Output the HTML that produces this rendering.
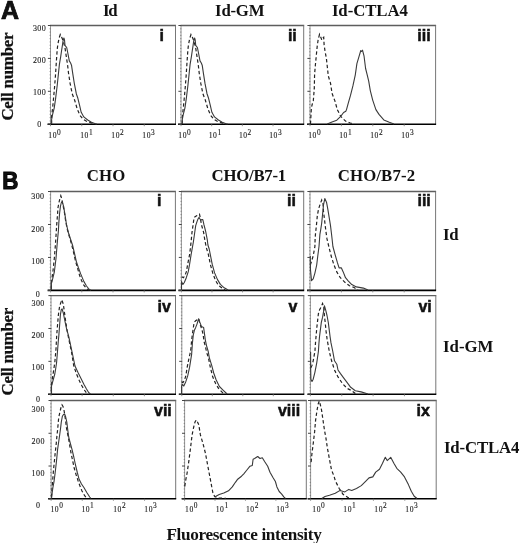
<!DOCTYPE html>
<html><head><meta charset="utf-8"><style>
html,body{margin:0;padding:0;background:#fff;}
body{width:520px;height:543px;overflow:hidden;position:relative;font-family:"Liberation Serif", serif;}
svg{position:absolute;left:0;top:0;will-change:transform;}
</style></head><body>
<svg width="520" height="543" viewBox="0 0 520 543" fill="#111">
<line x1="50.0" y1="25.5" x2="176.0" y2="25.5" stroke="#5e5e5e" stroke-width="1.3"/>
<line x1="175.5" y1="25.5" x2="175.5" y2="124.2" stroke="#777" stroke-width="1"/>
<line x1="50.5" y1="25.5" x2="50.5" y2="124.2" stroke="#888" stroke-width="0.9"/>
<line x1="47.5" y1="124.2" x2="176.0" y2="124.2" stroke="#000" stroke-width="1.6"/>
<line x1="47.90" y1="124.20" x2="50.9" y2="124.20" stroke="#444" stroke-width="1"/>
<line x1="49.60" y1="120.91" x2="50.9" y2="120.91" stroke="#777" stroke-width="0.8"/>
<line x1="49.60" y1="117.62" x2="50.9" y2="117.62" stroke="#777" stroke-width="0.8"/>
<line x1="49.60" y1="114.33" x2="50.9" y2="114.33" stroke="#777" stroke-width="0.8"/>
<line x1="49.60" y1="111.04" x2="50.9" y2="111.04" stroke="#777" stroke-width="0.8"/>
<line x1="49.60" y1="107.75" x2="50.9" y2="107.75" stroke="#777" stroke-width="0.8"/>
<line x1="49.60" y1="104.46" x2="50.9" y2="104.46" stroke="#777" stroke-width="0.8"/>
<line x1="49.60" y1="101.17" x2="50.9" y2="101.17" stroke="#777" stroke-width="0.8"/>
<line x1="49.60" y1="97.88" x2="50.9" y2="97.88" stroke="#777" stroke-width="0.8"/>
<line x1="49.60" y1="94.59" x2="50.9" y2="94.59" stroke="#777" stroke-width="0.8"/>
<line x1="47.90" y1="91.30" x2="50.9" y2="91.30" stroke="#444" stroke-width="1"/>
<line x1="49.60" y1="88.01" x2="50.9" y2="88.01" stroke="#777" stroke-width="0.8"/>
<line x1="49.60" y1="84.72" x2="50.9" y2="84.72" stroke="#777" stroke-width="0.8"/>
<line x1="49.60" y1="81.43" x2="50.9" y2="81.43" stroke="#777" stroke-width="0.8"/>
<line x1="49.60" y1="78.14" x2="50.9" y2="78.14" stroke="#777" stroke-width="0.8"/>
<line x1="49.60" y1="74.85" x2="50.9" y2="74.85" stroke="#777" stroke-width="0.8"/>
<line x1="49.60" y1="71.56" x2="50.9" y2="71.56" stroke="#777" stroke-width="0.8"/>
<line x1="49.60" y1="68.27" x2="50.9" y2="68.27" stroke="#777" stroke-width="0.8"/>
<line x1="49.60" y1="64.98" x2="50.9" y2="64.98" stroke="#777" stroke-width="0.8"/>
<line x1="49.60" y1="61.69" x2="50.9" y2="61.69" stroke="#777" stroke-width="0.8"/>
<line x1="47.90" y1="58.40" x2="50.9" y2="58.40" stroke="#444" stroke-width="1"/>
<line x1="49.60" y1="55.11" x2="50.9" y2="55.11" stroke="#777" stroke-width="0.8"/>
<line x1="49.60" y1="51.82" x2="50.9" y2="51.82" stroke="#777" stroke-width="0.8"/>
<line x1="49.60" y1="48.53" x2="50.9" y2="48.53" stroke="#777" stroke-width="0.8"/>
<line x1="49.60" y1="45.24" x2="50.9" y2="45.24" stroke="#777" stroke-width="0.8"/>
<line x1="49.60" y1="41.95" x2="50.9" y2="41.95" stroke="#777" stroke-width="0.8"/>
<line x1="49.60" y1="38.66" x2="50.9" y2="38.66" stroke="#777" stroke-width="0.8"/>
<line x1="49.60" y1="35.37" x2="50.9" y2="35.37" stroke="#777" stroke-width="0.8"/>
<line x1="49.60" y1="32.08" x2="50.9" y2="32.08" stroke="#777" stroke-width="0.8"/>
<line x1="49.60" y1="28.79" x2="50.9" y2="28.79" stroke="#777" stroke-width="0.8"/>
<line x1="47.90" y1="25.50" x2="50.9" y2="25.50" stroke="#444" stroke-width="1"/>
<line x1="50.50" y1="124.2" x2="50.50" y2="126.2" stroke="#777" stroke-width="0.8"/>
<line x1="81.75" y1="124.2" x2="81.75" y2="126.2" stroke="#777" stroke-width="0.8"/>
<line x1="113.00" y1="124.2" x2="113.00" y2="126.2" stroke="#777" stroke-width="0.8"/>
<line x1="144.25" y1="124.2" x2="144.25" y2="126.2" stroke="#777" stroke-width="0.8"/>
<line x1="180.5" y1="25.5" x2="304.2" y2="25.5" stroke="#5e5e5e" stroke-width="1.3"/>
<line x1="303.7" y1="25.5" x2="303.7" y2="124.2" stroke="#777" stroke-width="1"/>
<line x1="181" y1="25.5" x2="181" y2="124.2" stroke="#888" stroke-width="0.9"/>
<line x1="178" y1="124.2" x2="304.2" y2="124.2" stroke="#000" stroke-width="1.6"/>
<line x1="178.40" y1="124.20" x2="181.4" y2="124.20" stroke="#444" stroke-width="1"/>
<line x1="180.10" y1="120.91" x2="181.4" y2="120.91" stroke="#777" stroke-width="0.8"/>
<line x1="180.10" y1="117.62" x2="181.4" y2="117.62" stroke="#777" stroke-width="0.8"/>
<line x1="180.10" y1="114.33" x2="181.4" y2="114.33" stroke="#777" stroke-width="0.8"/>
<line x1="180.10" y1="111.04" x2="181.4" y2="111.04" stroke="#777" stroke-width="0.8"/>
<line x1="180.10" y1="107.75" x2="181.4" y2="107.75" stroke="#777" stroke-width="0.8"/>
<line x1="180.10" y1="104.46" x2="181.4" y2="104.46" stroke="#777" stroke-width="0.8"/>
<line x1="180.10" y1="101.17" x2="181.4" y2="101.17" stroke="#777" stroke-width="0.8"/>
<line x1="180.10" y1="97.88" x2="181.4" y2="97.88" stroke="#777" stroke-width="0.8"/>
<line x1="180.10" y1="94.59" x2="181.4" y2="94.59" stroke="#777" stroke-width="0.8"/>
<line x1="178.40" y1="91.30" x2="181.4" y2="91.30" stroke="#444" stroke-width="1"/>
<line x1="180.10" y1="88.01" x2="181.4" y2="88.01" stroke="#777" stroke-width="0.8"/>
<line x1="180.10" y1="84.72" x2="181.4" y2="84.72" stroke="#777" stroke-width="0.8"/>
<line x1="180.10" y1="81.43" x2="181.4" y2="81.43" stroke="#777" stroke-width="0.8"/>
<line x1="180.10" y1="78.14" x2="181.4" y2="78.14" stroke="#777" stroke-width="0.8"/>
<line x1="180.10" y1="74.85" x2="181.4" y2="74.85" stroke="#777" stroke-width="0.8"/>
<line x1="180.10" y1="71.56" x2="181.4" y2="71.56" stroke="#777" stroke-width="0.8"/>
<line x1="180.10" y1="68.27" x2="181.4" y2="68.27" stroke="#777" stroke-width="0.8"/>
<line x1="180.10" y1="64.98" x2="181.4" y2="64.98" stroke="#777" stroke-width="0.8"/>
<line x1="180.10" y1="61.69" x2="181.4" y2="61.69" stroke="#777" stroke-width="0.8"/>
<line x1="178.40" y1="58.40" x2="181.4" y2="58.40" stroke="#444" stroke-width="1"/>
<line x1="180.10" y1="55.11" x2="181.4" y2="55.11" stroke="#777" stroke-width="0.8"/>
<line x1="180.10" y1="51.82" x2="181.4" y2="51.82" stroke="#777" stroke-width="0.8"/>
<line x1="180.10" y1="48.53" x2="181.4" y2="48.53" stroke="#777" stroke-width="0.8"/>
<line x1="180.10" y1="45.24" x2="181.4" y2="45.24" stroke="#777" stroke-width="0.8"/>
<line x1="180.10" y1="41.95" x2="181.4" y2="41.95" stroke="#777" stroke-width="0.8"/>
<line x1="180.10" y1="38.66" x2="181.4" y2="38.66" stroke="#777" stroke-width="0.8"/>
<line x1="180.10" y1="35.37" x2="181.4" y2="35.37" stroke="#777" stroke-width="0.8"/>
<line x1="180.10" y1="32.08" x2="181.4" y2="32.08" stroke="#777" stroke-width="0.8"/>
<line x1="180.10" y1="28.79" x2="181.4" y2="28.79" stroke="#777" stroke-width="0.8"/>
<line x1="178.40" y1="25.50" x2="181.4" y2="25.50" stroke="#444" stroke-width="1"/>
<line x1="181.00" y1="124.2" x2="181.00" y2="126.2" stroke="#777" stroke-width="0.8"/>
<line x1="211.68" y1="124.2" x2="211.68" y2="126.2" stroke="#777" stroke-width="0.8"/>
<line x1="242.35" y1="124.2" x2="242.35" y2="126.2" stroke="#777" stroke-width="0.8"/>
<line x1="273.02" y1="124.2" x2="273.02" y2="126.2" stroke="#777" stroke-width="0.8"/>
<line x1="309.5" y1="25.5" x2="436.1" y2="25.5" stroke="#5e5e5e" stroke-width="1.3"/>
<line x1="435.6" y1="25.5" x2="435.6" y2="124.2" stroke="#777" stroke-width="1"/>
<line x1="310" y1="25.5" x2="310" y2="124.2" stroke="#888" stroke-width="0.9"/>
<line x1="307" y1="124.2" x2="436.1" y2="124.2" stroke="#000" stroke-width="1.6"/>
<line x1="307.40" y1="124.20" x2="310.4" y2="124.20" stroke="#444" stroke-width="1"/>
<line x1="309.10" y1="120.91" x2="310.4" y2="120.91" stroke="#777" stroke-width="0.8"/>
<line x1="309.10" y1="117.62" x2="310.4" y2="117.62" stroke="#777" stroke-width="0.8"/>
<line x1="309.10" y1="114.33" x2="310.4" y2="114.33" stroke="#777" stroke-width="0.8"/>
<line x1="309.10" y1="111.04" x2="310.4" y2="111.04" stroke="#777" stroke-width="0.8"/>
<line x1="309.10" y1="107.75" x2="310.4" y2="107.75" stroke="#777" stroke-width="0.8"/>
<line x1="309.10" y1="104.46" x2="310.4" y2="104.46" stroke="#777" stroke-width="0.8"/>
<line x1="309.10" y1="101.17" x2="310.4" y2="101.17" stroke="#777" stroke-width="0.8"/>
<line x1="309.10" y1="97.88" x2="310.4" y2="97.88" stroke="#777" stroke-width="0.8"/>
<line x1="309.10" y1="94.59" x2="310.4" y2="94.59" stroke="#777" stroke-width="0.8"/>
<line x1="307.40" y1="91.30" x2="310.4" y2="91.30" stroke="#444" stroke-width="1"/>
<line x1="309.10" y1="88.01" x2="310.4" y2="88.01" stroke="#777" stroke-width="0.8"/>
<line x1="309.10" y1="84.72" x2="310.4" y2="84.72" stroke="#777" stroke-width="0.8"/>
<line x1="309.10" y1="81.43" x2="310.4" y2="81.43" stroke="#777" stroke-width="0.8"/>
<line x1="309.10" y1="78.14" x2="310.4" y2="78.14" stroke="#777" stroke-width="0.8"/>
<line x1="309.10" y1="74.85" x2="310.4" y2="74.85" stroke="#777" stroke-width="0.8"/>
<line x1="309.10" y1="71.56" x2="310.4" y2="71.56" stroke="#777" stroke-width="0.8"/>
<line x1="309.10" y1="68.27" x2="310.4" y2="68.27" stroke="#777" stroke-width="0.8"/>
<line x1="309.10" y1="64.98" x2="310.4" y2="64.98" stroke="#777" stroke-width="0.8"/>
<line x1="309.10" y1="61.69" x2="310.4" y2="61.69" stroke="#777" stroke-width="0.8"/>
<line x1="307.40" y1="58.40" x2="310.4" y2="58.40" stroke="#444" stroke-width="1"/>
<line x1="309.10" y1="55.11" x2="310.4" y2="55.11" stroke="#777" stroke-width="0.8"/>
<line x1="309.10" y1="51.82" x2="310.4" y2="51.82" stroke="#777" stroke-width="0.8"/>
<line x1="309.10" y1="48.53" x2="310.4" y2="48.53" stroke="#777" stroke-width="0.8"/>
<line x1="309.10" y1="45.24" x2="310.4" y2="45.24" stroke="#777" stroke-width="0.8"/>
<line x1="309.10" y1="41.95" x2="310.4" y2="41.95" stroke="#777" stroke-width="0.8"/>
<line x1="309.10" y1="38.66" x2="310.4" y2="38.66" stroke="#777" stroke-width="0.8"/>
<line x1="309.10" y1="35.37" x2="310.4" y2="35.37" stroke="#777" stroke-width="0.8"/>
<line x1="309.10" y1="32.08" x2="310.4" y2="32.08" stroke="#777" stroke-width="0.8"/>
<line x1="309.10" y1="28.79" x2="310.4" y2="28.79" stroke="#777" stroke-width="0.8"/>
<line x1="307.40" y1="25.50" x2="310.4" y2="25.50" stroke="#444" stroke-width="1"/>
<line x1="310.00" y1="124.2" x2="310.00" y2="126.2" stroke="#777" stroke-width="0.8"/>
<line x1="341.40" y1="124.2" x2="341.40" y2="126.2" stroke="#777" stroke-width="0.8"/>
<line x1="372.80" y1="124.2" x2="372.80" y2="126.2" stroke="#777" stroke-width="0.8"/>
<line x1="404.20" y1="124.2" x2="404.20" y2="126.2" stroke="#777" stroke-width="0.8"/>
<line x1="50.1" y1="191.5" x2="175.9" y2="191.5" stroke="#5e5e5e" stroke-width="1.3"/>
<line x1="175.4" y1="191.5" x2="175.4" y2="290.4" stroke="#777" stroke-width="1"/>
<line x1="50.6" y1="191.5" x2="50.6" y2="290.4" stroke="#888" stroke-width="0.9"/>
<line x1="47.6" y1="290.4" x2="175.9" y2="290.4" stroke="#000" stroke-width="1.6"/>
<line x1="48.00" y1="290.40" x2="51.0" y2="290.40" stroke="#444" stroke-width="1"/>
<line x1="49.70" y1="287.10" x2="51.0" y2="287.10" stroke="#777" stroke-width="0.8"/>
<line x1="49.70" y1="283.81" x2="51.0" y2="283.81" stroke="#777" stroke-width="0.8"/>
<line x1="49.70" y1="280.51" x2="51.0" y2="280.51" stroke="#777" stroke-width="0.8"/>
<line x1="49.70" y1="277.21" x2="51.0" y2="277.21" stroke="#777" stroke-width="0.8"/>
<line x1="49.70" y1="273.92" x2="51.0" y2="273.92" stroke="#777" stroke-width="0.8"/>
<line x1="49.70" y1="270.62" x2="51.0" y2="270.62" stroke="#777" stroke-width="0.8"/>
<line x1="49.70" y1="267.32" x2="51.0" y2="267.32" stroke="#777" stroke-width="0.8"/>
<line x1="49.70" y1="264.03" x2="51.0" y2="264.03" stroke="#777" stroke-width="0.8"/>
<line x1="49.70" y1="260.73" x2="51.0" y2="260.73" stroke="#777" stroke-width="0.8"/>
<line x1="48.00" y1="257.43" x2="51.0" y2="257.43" stroke="#444" stroke-width="1"/>
<line x1="49.70" y1="254.14" x2="51.0" y2="254.14" stroke="#777" stroke-width="0.8"/>
<line x1="49.70" y1="250.84" x2="51.0" y2="250.84" stroke="#777" stroke-width="0.8"/>
<line x1="49.70" y1="247.54" x2="51.0" y2="247.54" stroke="#777" stroke-width="0.8"/>
<line x1="49.70" y1="244.25" x2="51.0" y2="244.25" stroke="#777" stroke-width="0.8"/>
<line x1="49.70" y1="240.95" x2="51.0" y2="240.95" stroke="#777" stroke-width="0.8"/>
<line x1="49.70" y1="237.65" x2="51.0" y2="237.65" stroke="#777" stroke-width="0.8"/>
<line x1="49.70" y1="234.36" x2="51.0" y2="234.36" stroke="#777" stroke-width="0.8"/>
<line x1="49.70" y1="231.06" x2="51.0" y2="231.06" stroke="#777" stroke-width="0.8"/>
<line x1="49.70" y1="227.76" x2="51.0" y2="227.76" stroke="#777" stroke-width="0.8"/>
<line x1="48.00" y1="224.47" x2="51.0" y2="224.47" stroke="#444" stroke-width="1"/>
<line x1="49.70" y1="221.17" x2="51.0" y2="221.17" stroke="#777" stroke-width="0.8"/>
<line x1="49.70" y1="217.87" x2="51.0" y2="217.87" stroke="#777" stroke-width="0.8"/>
<line x1="49.70" y1="214.58" x2="51.0" y2="214.58" stroke="#777" stroke-width="0.8"/>
<line x1="49.70" y1="211.28" x2="51.0" y2="211.28" stroke="#777" stroke-width="0.8"/>
<line x1="49.70" y1="207.98" x2="51.0" y2="207.98" stroke="#777" stroke-width="0.8"/>
<line x1="49.70" y1="204.69" x2="51.0" y2="204.69" stroke="#777" stroke-width="0.8"/>
<line x1="49.70" y1="201.39" x2="51.0" y2="201.39" stroke="#777" stroke-width="0.8"/>
<line x1="49.70" y1="198.09" x2="51.0" y2="198.09" stroke="#777" stroke-width="0.8"/>
<line x1="49.70" y1="194.80" x2="51.0" y2="194.80" stroke="#777" stroke-width="0.8"/>
<line x1="48.00" y1="191.50" x2="51.0" y2="191.50" stroke="#444" stroke-width="1"/>
<line x1="50.60" y1="290.4" x2="50.60" y2="292.4" stroke="#777" stroke-width="0.8"/>
<line x1="81.80" y1="290.4" x2="81.80" y2="292.4" stroke="#777" stroke-width="0.8"/>
<line x1="113.00" y1="290.4" x2="113.00" y2="292.4" stroke="#777" stroke-width="0.8"/>
<line x1="144.20" y1="290.4" x2="144.20" y2="292.4" stroke="#777" stroke-width="0.8"/>
<line x1="180.9" y1="191.5" x2="304.2" y2="191.5" stroke="#5e5e5e" stroke-width="1.3"/>
<line x1="303.7" y1="191.5" x2="303.7" y2="290.4" stroke="#777" stroke-width="1"/>
<line x1="181.4" y1="191.5" x2="181.4" y2="290.4" stroke="#888" stroke-width="0.9"/>
<line x1="178.4" y1="290.4" x2="304.2" y2="290.4" stroke="#000" stroke-width="1.6"/>
<line x1="178.80" y1="290.40" x2="181.8" y2="290.40" stroke="#444" stroke-width="1"/>
<line x1="180.50" y1="287.10" x2="181.8" y2="287.10" stroke="#777" stroke-width="0.8"/>
<line x1="180.50" y1="283.81" x2="181.8" y2="283.81" stroke="#777" stroke-width="0.8"/>
<line x1="180.50" y1="280.51" x2="181.8" y2="280.51" stroke="#777" stroke-width="0.8"/>
<line x1="180.50" y1="277.21" x2="181.8" y2="277.21" stroke="#777" stroke-width="0.8"/>
<line x1="180.50" y1="273.92" x2="181.8" y2="273.92" stroke="#777" stroke-width="0.8"/>
<line x1="180.50" y1="270.62" x2="181.8" y2="270.62" stroke="#777" stroke-width="0.8"/>
<line x1="180.50" y1="267.32" x2="181.8" y2="267.32" stroke="#777" stroke-width="0.8"/>
<line x1="180.50" y1="264.03" x2="181.8" y2="264.03" stroke="#777" stroke-width="0.8"/>
<line x1="180.50" y1="260.73" x2="181.8" y2="260.73" stroke="#777" stroke-width="0.8"/>
<line x1="178.80" y1="257.43" x2="181.8" y2="257.43" stroke="#444" stroke-width="1"/>
<line x1="180.50" y1="254.14" x2="181.8" y2="254.14" stroke="#777" stroke-width="0.8"/>
<line x1="180.50" y1="250.84" x2="181.8" y2="250.84" stroke="#777" stroke-width="0.8"/>
<line x1="180.50" y1="247.54" x2="181.8" y2="247.54" stroke="#777" stroke-width="0.8"/>
<line x1="180.50" y1="244.25" x2="181.8" y2="244.25" stroke="#777" stroke-width="0.8"/>
<line x1="180.50" y1="240.95" x2="181.8" y2="240.95" stroke="#777" stroke-width="0.8"/>
<line x1="180.50" y1="237.65" x2="181.8" y2="237.65" stroke="#777" stroke-width="0.8"/>
<line x1="180.50" y1="234.36" x2="181.8" y2="234.36" stroke="#777" stroke-width="0.8"/>
<line x1="180.50" y1="231.06" x2="181.8" y2="231.06" stroke="#777" stroke-width="0.8"/>
<line x1="180.50" y1="227.76" x2="181.8" y2="227.76" stroke="#777" stroke-width="0.8"/>
<line x1="178.80" y1="224.47" x2="181.8" y2="224.47" stroke="#444" stroke-width="1"/>
<line x1="180.50" y1="221.17" x2="181.8" y2="221.17" stroke="#777" stroke-width="0.8"/>
<line x1="180.50" y1="217.87" x2="181.8" y2="217.87" stroke="#777" stroke-width="0.8"/>
<line x1="180.50" y1="214.58" x2="181.8" y2="214.58" stroke="#777" stroke-width="0.8"/>
<line x1="180.50" y1="211.28" x2="181.8" y2="211.28" stroke="#777" stroke-width="0.8"/>
<line x1="180.50" y1="207.98" x2="181.8" y2="207.98" stroke="#777" stroke-width="0.8"/>
<line x1="180.50" y1="204.69" x2="181.8" y2="204.69" stroke="#777" stroke-width="0.8"/>
<line x1="180.50" y1="201.39" x2="181.8" y2="201.39" stroke="#777" stroke-width="0.8"/>
<line x1="180.50" y1="198.09" x2="181.8" y2="198.09" stroke="#777" stroke-width="0.8"/>
<line x1="180.50" y1="194.80" x2="181.8" y2="194.80" stroke="#777" stroke-width="0.8"/>
<line x1="178.80" y1="191.50" x2="181.8" y2="191.50" stroke="#444" stroke-width="1"/>
<line x1="181.40" y1="290.4" x2="181.40" y2="292.4" stroke="#777" stroke-width="0.8"/>
<line x1="211.97" y1="290.4" x2="211.97" y2="292.4" stroke="#777" stroke-width="0.8"/>
<line x1="242.55" y1="290.4" x2="242.55" y2="292.4" stroke="#777" stroke-width="0.8"/>
<line x1="273.12" y1="290.4" x2="273.12" y2="292.4" stroke="#777" stroke-width="0.8"/>
<line x1="309.5" y1="191.5" x2="436.1" y2="191.5" stroke="#5e5e5e" stroke-width="1.3"/>
<line x1="435.6" y1="191.5" x2="435.6" y2="290.4" stroke="#777" stroke-width="1"/>
<line x1="310" y1="191.5" x2="310" y2="290.4" stroke="#888" stroke-width="0.9"/>
<line x1="307" y1="290.4" x2="436.1" y2="290.4" stroke="#000" stroke-width="1.6"/>
<line x1="307.40" y1="290.40" x2="310.4" y2="290.40" stroke="#444" stroke-width="1"/>
<line x1="309.10" y1="287.10" x2="310.4" y2="287.10" stroke="#777" stroke-width="0.8"/>
<line x1="309.10" y1="283.81" x2="310.4" y2="283.81" stroke="#777" stroke-width="0.8"/>
<line x1="309.10" y1="280.51" x2="310.4" y2="280.51" stroke="#777" stroke-width="0.8"/>
<line x1="309.10" y1="277.21" x2="310.4" y2="277.21" stroke="#777" stroke-width="0.8"/>
<line x1="309.10" y1="273.92" x2="310.4" y2="273.92" stroke="#777" stroke-width="0.8"/>
<line x1="309.10" y1="270.62" x2="310.4" y2="270.62" stroke="#777" stroke-width="0.8"/>
<line x1="309.10" y1="267.32" x2="310.4" y2="267.32" stroke="#777" stroke-width="0.8"/>
<line x1="309.10" y1="264.03" x2="310.4" y2="264.03" stroke="#777" stroke-width="0.8"/>
<line x1="309.10" y1="260.73" x2="310.4" y2="260.73" stroke="#777" stroke-width="0.8"/>
<line x1="307.40" y1="257.43" x2="310.4" y2="257.43" stroke="#444" stroke-width="1"/>
<line x1="309.10" y1="254.14" x2="310.4" y2="254.14" stroke="#777" stroke-width="0.8"/>
<line x1="309.10" y1="250.84" x2="310.4" y2="250.84" stroke="#777" stroke-width="0.8"/>
<line x1="309.10" y1="247.54" x2="310.4" y2="247.54" stroke="#777" stroke-width="0.8"/>
<line x1="309.10" y1="244.25" x2="310.4" y2="244.25" stroke="#777" stroke-width="0.8"/>
<line x1="309.10" y1="240.95" x2="310.4" y2="240.95" stroke="#777" stroke-width="0.8"/>
<line x1="309.10" y1="237.65" x2="310.4" y2="237.65" stroke="#777" stroke-width="0.8"/>
<line x1="309.10" y1="234.36" x2="310.4" y2="234.36" stroke="#777" stroke-width="0.8"/>
<line x1="309.10" y1="231.06" x2="310.4" y2="231.06" stroke="#777" stroke-width="0.8"/>
<line x1="309.10" y1="227.76" x2="310.4" y2="227.76" stroke="#777" stroke-width="0.8"/>
<line x1="307.40" y1="224.47" x2="310.4" y2="224.47" stroke="#444" stroke-width="1"/>
<line x1="309.10" y1="221.17" x2="310.4" y2="221.17" stroke="#777" stroke-width="0.8"/>
<line x1="309.10" y1="217.87" x2="310.4" y2="217.87" stroke="#777" stroke-width="0.8"/>
<line x1="309.10" y1="214.58" x2="310.4" y2="214.58" stroke="#777" stroke-width="0.8"/>
<line x1="309.10" y1="211.28" x2="310.4" y2="211.28" stroke="#777" stroke-width="0.8"/>
<line x1="309.10" y1="207.98" x2="310.4" y2="207.98" stroke="#777" stroke-width="0.8"/>
<line x1="309.10" y1="204.69" x2="310.4" y2="204.69" stroke="#777" stroke-width="0.8"/>
<line x1="309.10" y1="201.39" x2="310.4" y2="201.39" stroke="#777" stroke-width="0.8"/>
<line x1="309.10" y1="198.09" x2="310.4" y2="198.09" stroke="#777" stroke-width="0.8"/>
<line x1="309.10" y1="194.80" x2="310.4" y2="194.80" stroke="#777" stroke-width="0.8"/>
<line x1="307.40" y1="191.50" x2="310.4" y2="191.50" stroke="#444" stroke-width="1"/>
<line x1="310.00" y1="290.4" x2="310.00" y2="292.4" stroke="#777" stroke-width="0.8"/>
<line x1="341.40" y1="290.4" x2="341.40" y2="292.4" stroke="#777" stroke-width="0.8"/>
<line x1="372.80" y1="290.4" x2="372.80" y2="292.4" stroke="#777" stroke-width="0.8"/>
<line x1="404.20" y1="290.4" x2="404.20" y2="292.4" stroke="#777" stroke-width="0.8"/>
<line x1="50.5" y1="295.6" x2="176.0" y2="295.6" stroke="#5e5e5e" stroke-width="1.3"/>
<line x1="175.5" y1="295.6" x2="175.5" y2="394.2" stroke="#777" stroke-width="1"/>
<line x1="51" y1="295.6" x2="51" y2="394.2" stroke="#888" stroke-width="0.9"/>
<line x1="48" y1="394.2" x2="176.0" y2="394.2" stroke="#000" stroke-width="1.6"/>
<line x1="48.40" y1="394.20" x2="51.4" y2="394.20" stroke="#444" stroke-width="1"/>
<line x1="50.10" y1="390.91" x2="51.4" y2="390.91" stroke="#777" stroke-width="0.8"/>
<line x1="50.10" y1="387.63" x2="51.4" y2="387.63" stroke="#777" stroke-width="0.8"/>
<line x1="50.10" y1="384.34" x2="51.4" y2="384.34" stroke="#777" stroke-width="0.8"/>
<line x1="50.10" y1="381.05" x2="51.4" y2="381.05" stroke="#777" stroke-width="0.8"/>
<line x1="50.10" y1="377.77" x2="51.4" y2="377.77" stroke="#777" stroke-width="0.8"/>
<line x1="50.10" y1="374.48" x2="51.4" y2="374.48" stroke="#777" stroke-width="0.8"/>
<line x1="50.10" y1="371.19" x2="51.4" y2="371.19" stroke="#777" stroke-width="0.8"/>
<line x1="50.10" y1="367.91" x2="51.4" y2="367.91" stroke="#777" stroke-width="0.8"/>
<line x1="50.10" y1="364.62" x2="51.4" y2="364.62" stroke="#777" stroke-width="0.8"/>
<line x1="48.40" y1="361.33" x2="51.4" y2="361.33" stroke="#444" stroke-width="1"/>
<line x1="50.10" y1="358.05" x2="51.4" y2="358.05" stroke="#777" stroke-width="0.8"/>
<line x1="50.10" y1="354.76" x2="51.4" y2="354.76" stroke="#777" stroke-width="0.8"/>
<line x1="50.10" y1="351.47" x2="51.4" y2="351.47" stroke="#777" stroke-width="0.8"/>
<line x1="50.10" y1="348.19" x2="51.4" y2="348.19" stroke="#777" stroke-width="0.8"/>
<line x1="50.10" y1="344.90" x2="51.4" y2="344.90" stroke="#777" stroke-width="0.8"/>
<line x1="50.10" y1="341.61" x2="51.4" y2="341.61" stroke="#777" stroke-width="0.8"/>
<line x1="50.10" y1="338.33" x2="51.4" y2="338.33" stroke="#777" stroke-width="0.8"/>
<line x1="50.10" y1="335.04" x2="51.4" y2="335.04" stroke="#777" stroke-width="0.8"/>
<line x1="50.10" y1="331.75" x2="51.4" y2="331.75" stroke="#777" stroke-width="0.8"/>
<line x1="48.40" y1="328.47" x2="51.4" y2="328.47" stroke="#444" stroke-width="1"/>
<line x1="50.10" y1="325.18" x2="51.4" y2="325.18" stroke="#777" stroke-width="0.8"/>
<line x1="50.10" y1="321.89" x2="51.4" y2="321.89" stroke="#777" stroke-width="0.8"/>
<line x1="50.10" y1="318.61" x2="51.4" y2="318.61" stroke="#777" stroke-width="0.8"/>
<line x1="50.10" y1="315.32" x2="51.4" y2="315.32" stroke="#777" stroke-width="0.8"/>
<line x1="50.10" y1="312.03" x2="51.4" y2="312.03" stroke="#777" stroke-width="0.8"/>
<line x1="50.10" y1="308.75" x2="51.4" y2="308.75" stroke="#777" stroke-width="0.8"/>
<line x1="50.10" y1="305.46" x2="51.4" y2="305.46" stroke="#777" stroke-width="0.8"/>
<line x1="50.10" y1="302.17" x2="51.4" y2="302.17" stroke="#777" stroke-width="0.8"/>
<line x1="50.10" y1="298.89" x2="51.4" y2="298.89" stroke="#777" stroke-width="0.8"/>
<line x1="48.40" y1="295.60" x2="51.4" y2="295.60" stroke="#444" stroke-width="1"/>
<line x1="51.00" y1="394.2" x2="51.00" y2="396.2" stroke="#777" stroke-width="0.8"/>
<line x1="82.12" y1="394.2" x2="82.12" y2="396.2" stroke="#777" stroke-width="0.8"/>
<line x1="113.25" y1="394.2" x2="113.25" y2="396.2" stroke="#777" stroke-width="0.8"/>
<line x1="144.38" y1="394.2" x2="144.38" y2="396.2" stroke="#777" stroke-width="0.8"/>
<line x1="181.3" y1="295.6" x2="304.3" y2="295.6" stroke="#5e5e5e" stroke-width="1.3"/>
<line x1="303.8" y1="295.6" x2="303.8" y2="394.2" stroke="#777" stroke-width="1"/>
<line x1="181.8" y1="295.6" x2="181.8" y2="394.2" stroke="#888" stroke-width="0.9"/>
<line x1="178.8" y1="394.2" x2="304.3" y2="394.2" stroke="#000" stroke-width="1.6"/>
<line x1="179.20" y1="394.20" x2="182.20000000000002" y2="394.20" stroke="#444" stroke-width="1"/>
<line x1="180.90" y1="390.91" x2="182.20000000000002" y2="390.91" stroke="#777" stroke-width="0.8"/>
<line x1="180.90" y1="387.63" x2="182.20000000000002" y2="387.63" stroke="#777" stroke-width="0.8"/>
<line x1="180.90" y1="384.34" x2="182.20000000000002" y2="384.34" stroke="#777" stroke-width="0.8"/>
<line x1="180.90" y1="381.05" x2="182.20000000000002" y2="381.05" stroke="#777" stroke-width="0.8"/>
<line x1="180.90" y1="377.77" x2="182.20000000000002" y2="377.77" stroke="#777" stroke-width="0.8"/>
<line x1="180.90" y1="374.48" x2="182.20000000000002" y2="374.48" stroke="#777" stroke-width="0.8"/>
<line x1="180.90" y1="371.19" x2="182.20000000000002" y2="371.19" stroke="#777" stroke-width="0.8"/>
<line x1="180.90" y1="367.91" x2="182.20000000000002" y2="367.91" stroke="#777" stroke-width="0.8"/>
<line x1="180.90" y1="364.62" x2="182.20000000000002" y2="364.62" stroke="#777" stroke-width="0.8"/>
<line x1="179.20" y1="361.33" x2="182.20000000000002" y2="361.33" stroke="#444" stroke-width="1"/>
<line x1="180.90" y1="358.05" x2="182.20000000000002" y2="358.05" stroke="#777" stroke-width="0.8"/>
<line x1="180.90" y1="354.76" x2="182.20000000000002" y2="354.76" stroke="#777" stroke-width="0.8"/>
<line x1="180.90" y1="351.47" x2="182.20000000000002" y2="351.47" stroke="#777" stroke-width="0.8"/>
<line x1="180.90" y1="348.19" x2="182.20000000000002" y2="348.19" stroke="#777" stroke-width="0.8"/>
<line x1="180.90" y1="344.90" x2="182.20000000000002" y2="344.90" stroke="#777" stroke-width="0.8"/>
<line x1="180.90" y1="341.61" x2="182.20000000000002" y2="341.61" stroke="#777" stroke-width="0.8"/>
<line x1="180.90" y1="338.33" x2="182.20000000000002" y2="338.33" stroke="#777" stroke-width="0.8"/>
<line x1="180.90" y1="335.04" x2="182.20000000000002" y2="335.04" stroke="#777" stroke-width="0.8"/>
<line x1="180.90" y1="331.75" x2="182.20000000000002" y2="331.75" stroke="#777" stroke-width="0.8"/>
<line x1="179.20" y1="328.47" x2="182.20000000000002" y2="328.47" stroke="#444" stroke-width="1"/>
<line x1="180.90" y1="325.18" x2="182.20000000000002" y2="325.18" stroke="#777" stroke-width="0.8"/>
<line x1="180.90" y1="321.89" x2="182.20000000000002" y2="321.89" stroke="#777" stroke-width="0.8"/>
<line x1="180.90" y1="318.61" x2="182.20000000000002" y2="318.61" stroke="#777" stroke-width="0.8"/>
<line x1="180.90" y1="315.32" x2="182.20000000000002" y2="315.32" stroke="#777" stroke-width="0.8"/>
<line x1="180.90" y1="312.03" x2="182.20000000000002" y2="312.03" stroke="#777" stroke-width="0.8"/>
<line x1="180.90" y1="308.75" x2="182.20000000000002" y2="308.75" stroke="#777" stroke-width="0.8"/>
<line x1="180.90" y1="305.46" x2="182.20000000000002" y2="305.46" stroke="#777" stroke-width="0.8"/>
<line x1="180.90" y1="302.17" x2="182.20000000000002" y2="302.17" stroke="#777" stroke-width="0.8"/>
<line x1="180.90" y1="298.89" x2="182.20000000000002" y2="298.89" stroke="#777" stroke-width="0.8"/>
<line x1="179.20" y1="295.60" x2="182.20000000000002" y2="295.60" stroke="#444" stroke-width="1"/>
<line x1="181.80" y1="394.2" x2="181.80" y2="396.2" stroke="#777" stroke-width="0.8"/>
<line x1="212.30" y1="394.2" x2="212.30" y2="396.2" stroke="#777" stroke-width="0.8"/>
<line x1="242.80" y1="394.2" x2="242.80" y2="396.2" stroke="#777" stroke-width="0.8"/>
<line x1="273.30" y1="394.2" x2="273.30" y2="396.2" stroke="#777" stroke-width="0.8"/>
<line x1="309.9" y1="295.6" x2="436.3" y2="295.6" stroke="#5e5e5e" stroke-width="1.3"/>
<line x1="435.8" y1="295.6" x2="435.8" y2="394.2" stroke="#777" stroke-width="1"/>
<line x1="310.4" y1="295.6" x2="310.4" y2="394.2" stroke="#888" stroke-width="0.9"/>
<line x1="307.4" y1="394.2" x2="436.3" y2="394.2" stroke="#000" stroke-width="1.6"/>
<line x1="307.80" y1="394.20" x2="310.79999999999995" y2="394.20" stroke="#444" stroke-width="1"/>
<line x1="309.50" y1="390.91" x2="310.79999999999995" y2="390.91" stroke="#777" stroke-width="0.8"/>
<line x1="309.50" y1="387.63" x2="310.79999999999995" y2="387.63" stroke="#777" stroke-width="0.8"/>
<line x1="309.50" y1="384.34" x2="310.79999999999995" y2="384.34" stroke="#777" stroke-width="0.8"/>
<line x1="309.50" y1="381.05" x2="310.79999999999995" y2="381.05" stroke="#777" stroke-width="0.8"/>
<line x1="309.50" y1="377.77" x2="310.79999999999995" y2="377.77" stroke="#777" stroke-width="0.8"/>
<line x1="309.50" y1="374.48" x2="310.79999999999995" y2="374.48" stroke="#777" stroke-width="0.8"/>
<line x1="309.50" y1="371.19" x2="310.79999999999995" y2="371.19" stroke="#777" stroke-width="0.8"/>
<line x1="309.50" y1="367.91" x2="310.79999999999995" y2="367.91" stroke="#777" stroke-width="0.8"/>
<line x1="309.50" y1="364.62" x2="310.79999999999995" y2="364.62" stroke="#777" stroke-width="0.8"/>
<line x1="307.80" y1="361.33" x2="310.79999999999995" y2="361.33" stroke="#444" stroke-width="1"/>
<line x1="309.50" y1="358.05" x2="310.79999999999995" y2="358.05" stroke="#777" stroke-width="0.8"/>
<line x1="309.50" y1="354.76" x2="310.79999999999995" y2="354.76" stroke="#777" stroke-width="0.8"/>
<line x1="309.50" y1="351.47" x2="310.79999999999995" y2="351.47" stroke="#777" stroke-width="0.8"/>
<line x1="309.50" y1="348.19" x2="310.79999999999995" y2="348.19" stroke="#777" stroke-width="0.8"/>
<line x1="309.50" y1="344.90" x2="310.79999999999995" y2="344.90" stroke="#777" stroke-width="0.8"/>
<line x1="309.50" y1="341.61" x2="310.79999999999995" y2="341.61" stroke="#777" stroke-width="0.8"/>
<line x1="309.50" y1="338.33" x2="310.79999999999995" y2="338.33" stroke="#777" stroke-width="0.8"/>
<line x1="309.50" y1="335.04" x2="310.79999999999995" y2="335.04" stroke="#777" stroke-width="0.8"/>
<line x1="309.50" y1="331.75" x2="310.79999999999995" y2="331.75" stroke="#777" stroke-width="0.8"/>
<line x1="307.80" y1="328.47" x2="310.79999999999995" y2="328.47" stroke="#444" stroke-width="1"/>
<line x1="309.50" y1="325.18" x2="310.79999999999995" y2="325.18" stroke="#777" stroke-width="0.8"/>
<line x1="309.50" y1="321.89" x2="310.79999999999995" y2="321.89" stroke="#777" stroke-width="0.8"/>
<line x1="309.50" y1="318.61" x2="310.79999999999995" y2="318.61" stroke="#777" stroke-width="0.8"/>
<line x1="309.50" y1="315.32" x2="310.79999999999995" y2="315.32" stroke="#777" stroke-width="0.8"/>
<line x1="309.50" y1="312.03" x2="310.79999999999995" y2="312.03" stroke="#777" stroke-width="0.8"/>
<line x1="309.50" y1="308.75" x2="310.79999999999995" y2="308.75" stroke="#777" stroke-width="0.8"/>
<line x1="309.50" y1="305.46" x2="310.79999999999995" y2="305.46" stroke="#777" stroke-width="0.8"/>
<line x1="309.50" y1="302.17" x2="310.79999999999995" y2="302.17" stroke="#777" stroke-width="0.8"/>
<line x1="309.50" y1="298.89" x2="310.79999999999995" y2="298.89" stroke="#777" stroke-width="0.8"/>
<line x1="307.80" y1="295.60" x2="310.79999999999995" y2="295.60" stroke="#444" stroke-width="1"/>
<line x1="310.40" y1="394.2" x2="310.40" y2="396.2" stroke="#777" stroke-width="0.8"/>
<line x1="341.75" y1="394.2" x2="341.75" y2="396.2" stroke="#777" stroke-width="0.8"/>
<line x1="373.10" y1="394.2" x2="373.10" y2="396.2" stroke="#777" stroke-width="0.8"/>
<line x1="404.45" y1="394.2" x2="404.45" y2="396.2" stroke="#777" stroke-width="0.8"/>
<line x1="50.6" y1="400.5" x2="176.2" y2="400.5" stroke="#5e5e5e" stroke-width="1.3"/>
<line x1="175.7" y1="400.5" x2="175.7" y2="498.8" stroke="#777" stroke-width="1"/>
<line x1="51.1" y1="400.5" x2="51.1" y2="498.8" stroke="#888" stroke-width="0.9"/>
<line x1="48.1" y1="498.8" x2="176.2" y2="498.8" stroke="#000" stroke-width="1.6"/>
<line x1="48.50" y1="498.80" x2="51.5" y2="498.80" stroke="#444" stroke-width="1"/>
<line x1="50.20" y1="495.52" x2="51.5" y2="495.52" stroke="#777" stroke-width="0.8"/>
<line x1="50.20" y1="492.25" x2="51.5" y2="492.25" stroke="#777" stroke-width="0.8"/>
<line x1="50.20" y1="488.97" x2="51.5" y2="488.97" stroke="#777" stroke-width="0.8"/>
<line x1="50.20" y1="485.69" x2="51.5" y2="485.69" stroke="#777" stroke-width="0.8"/>
<line x1="50.20" y1="482.42" x2="51.5" y2="482.42" stroke="#777" stroke-width="0.8"/>
<line x1="50.20" y1="479.14" x2="51.5" y2="479.14" stroke="#777" stroke-width="0.8"/>
<line x1="50.20" y1="475.86" x2="51.5" y2="475.86" stroke="#777" stroke-width="0.8"/>
<line x1="50.20" y1="472.59" x2="51.5" y2="472.59" stroke="#777" stroke-width="0.8"/>
<line x1="50.20" y1="469.31" x2="51.5" y2="469.31" stroke="#777" stroke-width="0.8"/>
<line x1="48.50" y1="466.03" x2="51.5" y2="466.03" stroke="#444" stroke-width="1"/>
<line x1="50.20" y1="462.76" x2="51.5" y2="462.76" stroke="#777" stroke-width="0.8"/>
<line x1="50.20" y1="459.48" x2="51.5" y2="459.48" stroke="#777" stroke-width="0.8"/>
<line x1="50.20" y1="456.20" x2="51.5" y2="456.20" stroke="#777" stroke-width="0.8"/>
<line x1="50.20" y1="452.93" x2="51.5" y2="452.93" stroke="#777" stroke-width="0.8"/>
<line x1="50.20" y1="449.65" x2="51.5" y2="449.65" stroke="#777" stroke-width="0.8"/>
<line x1="50.20" y1="446.37" x2="51.5" y2="446.37" stroke="#777" stroke-width="0.8"/>
<line x1="50.20" y1="443.10" x2="51.5" y2="443.10" stroke="#777" stroke-width="0.8"/>
<line x1="50.20" y1="439.82" x2="51.5" y2="439.82" stroke="#777" stroke-width="0.8"/>
<line x1="50.20" y1="436.54" x2="51.5" y2="436.54" stroke="#777" stroke-width="0.8"/>
<line x1="48.50" y1="433.27" x2="51.5" y2="433.27" stroke="#444" stroke-width="1"/>
<line x1="50.20" y1="429.99" x2="51.5" y2="429.99" stroke="#777" stroke-width="0.8"/>
<line x1="50.20" y1="426.71" x2="51.5" y2="426.71" stroke="#777" stroke-width="0.8"/>
<line x1="50.20" y1="423.44" x2="51.5" y2="423.44" stroke="#777" stroke-width="0.8"/>
<line x1="50.20" y1="420.16" x2="51.5" y2="420.16" stroke="#777" stroke-width="0.8"/>
<line x1="50.20" y1="416.88" x2="51.5" y2="416.88" stroke="#777" stroke-width="0.8"/>
<line x1="50.20" y1="413.61" x2="51.5" y2="413.61" stroke="#777" stroke-width="0.8"/>
<line x1="50.20" y1="410.33" x2="51.5" y2="410.33" stroke="#777" stroke-width="0.8"/>
<line x1="50.20" y1="407.05" x2="51.5" y2="407.05" stroke="#777" stroke-width="0.8"/>
<line x1="50.20" y1="403.78" x2="51.5" y2="403.78" stroke="#777" stroke-width="0.8"/>
<line x1="48.50" y1="400.50" x2="51.5" y2="400.50" stroke="#444" stroke-width="1"/>
<line x1="51.10" y1="498.8" x2="51.10" y2="500.8" stroke="#777" stroke-width="0.8"/>
<line x1="82.25" y1="498.8" x2="82.25" y2="500.8" stroke="#777" stroke-width="0.8"/>
<line x1="113.40" y1="498.8" x2="113.40" y2="500.8" stroke="#777" stroke-width="0.8"/>
<line x1="144.55" y1="498.8" x2="144.55" y2="500.8" stroke="#777" stroke-width="0.8"/>
<line x1="184.1" y1="400.5" x2="306.8" y2="400.5" stroke="#5e5e5e" stroke-width="1.3"/>
<line x1="306.3" y1="400.5" x2="306.3" y2="498.8" stroke="#777" stroke-width="1"/>
<line x1="184.6" y1="400.5" x2="184.6" y2="498.8" stroke="#888" stroke-width="0.9"/>
<line x1="181.6" y1="498.8" x2="306.8" y2="498.8" stroke="#000" stroke-width="1.6"/>
<line x1="182.00" y1="498.80" x2="185.0" y2="498.80" stroke="#444" stroke-width="1"/>
<line x1="183.70" y1="495.52" x2="185.0" y2="495.52" stroke="#777" stroke-width="0.8"/>
<line x1="183.70" y1="492.25" x2="185.0" y2="492.25" stroke="#777" stroke-width="0.8"/>
<line x1="183.70" y1="488.97" x2="185.0" y2="488.97" stroke="#777" stroke-width="0.8"/>
<line x1="183.70" y1="485.69" x2="185.0" y2="485.69" stroke="#777" stroke-width="0.8"/>
<line x1="183.70" y1="482.42" x2="185.0" y2="482.42" stroke="#777" stroke-width="0.8"/>
<line x1="183.70" y1="479.14" x2="185.0" y2="479.14" stroke="#777" stroke-width="0.8"/>
<line x1="183.70" y1="475.86" x2="185.0" y2="475.86" stroke="#777" stroke-width="0.8"/>
<line x1="183.70" y1="472.59" x2="185.0" y2="472.59" stroke="#777" stroke-width="0.8"/>
<line x1="183.70" y1="469.31" x2="185.0" y2="469.31" stroke="#777" stroke-width="0.8"/>
<line x1="182.00" y1="466.03" x2="185.0" y2="466.03" stroke="#444" stroke-width="1"/>
<line x1="183.70" y1="462.76" x2="185.0" y2="462.76" stroke="#777" stroke-width="0.8"/>
<line x1="183.70" y1="459.48" x2="185.0" y2="459.48" stroke="#777" stroke-width="0.8"/>
<line x1="183.70" y1="456.20" x2="185.0" y2="456.20" stroke="#777" stroke-width="0.8"/>
<line x1="183.70" y1="452.93" x2="185.0" y2="452.93" stroke="#777" stroke-width="0.8"/>
<line x1="183.70" y1="449.65" x2="185.0" y2="449.65" stroke="#777" stroke-width="0.8"/>
<line x1="183.70" y1="446.37" x2="185.0" y2="446.37" stroke="#777" stroke-width="0.8"/>
<line x1="183.70" y1="443.10" x2="185.0" y2="443.10" stroke="#777" stroke-width="0.8"/>
<line x1="183.70" y1="439.82" x2="185.0" y2="439.82" stroke="#777" stroke-width="0.8"/>
<line x1="183.70" y1="436.54" x2="185.0" y2="436.54" stroke="#777" stroke-width="0.8"/>
<line x1="182.00" y1="433.27" x2="185.0" y2="433.27" stroke="#444" stroke-width="1"/>
<line x1="183.70" y1="429.99" x2="185.0" y2="429.99" stroke="#777" stroke-width="0.8"/>
<line x1="183.70" y1="426.71" x2="185.0" y2="426.71" stroke="#777" stroke-width="0.8"/>
<line x1="183.70" y1="423.44" x2="185.0" y2="423.44" stroke="#777" stroke-width="0.8"/>
<line x1="183.70" y1="420.16" x2="185.0" y2="420.16" stroke="#777" stroke-width="0.8"/>
<line x1="183.70" y1="416.88" x2="185.0" y2="416.88" stroke="#777" stroke-width="0.8"/>
<line x1="183.70" y1="413.61" x2="185.0" y2="413.61" stroke="#777" stroke-width="0.8"/>
<line x1="183.70" y1="410.33" x2="185.0" y2="410.33" stroke="#777" stroke-width="0.8"/>
<line x1="183.70" y1="407.05" x2="185.0" y2="407.05" stroke="#777" stroke-width="0.8"/>
<line x1="183.70" y1="403.78" x2="185.0" y2="403.78" stroke="#777" stroke-width="0.8"/>
<line x1="182.00" y1="400.50" x2="185.0" y2="400.50" stroke="#444" stroke-width="1"/>
<line x1="184.60" y1="498.8" x2="184.60" y2="500.8" stroke="#777" stroke-width="0.8"/>
<line x1="215.03" y1="498.8" x2="215.03" y2="500.8" stroke="#777" stroke-width="0.8"/>
<line x1="245.45" y1="498.8" x2="245.45" y2="500.8" stroke="#777" stroke-width="0.8"/>
<line x1="275.88" y1="498.8" x2="275.88" y2="500.8" stroke="#777" stroke-width="0.8"/>
<line x1="310.1" y1="400.5" x2="436.7" y2="400.5" stroke="#5e5e5e" stroke-width="1.3"/>
<line x1="436.2" y1="400.5" x2="436.2" y2="498.8" stroke="#777" stroke-width="1"/>
<line x1="310.6" y1="400.5" x2="310.6" y2="498.8" stroke="#888" stroke-width="0.9"/>
<line x1="307.6" y1="498.8" x2="436.7" y2="498.8" stroke="#000" stroke-width="1.6"/>
<line x1="308.00" y1="498.80" x2="311.0" y2="498.80" stroke="#444" stroke-width="1"/>
<line x1="309.70" y1="495.52" x2="311.0" y2="495.52" stroke="#777" stroke-width="0.8"/>
<line x1="309.70" y1="492.25" x2="311.0" y2="492.25" stroke="#777" stroke-width="0.8"/>
<line x1="309.70" y1="488.97" x2="311.0" y2="488.97" stroke="#777" stroke-width="0.8"/>
<line x1="309.70" y1="485.69" x2="311.0" y2="485.69" stroke="#777" stroke-width="0.8"/>
<line x1="309.70" y1="482.42" x2="311.0" y2="482.42" stroke="#777" stroke-width="0.8"/>
<line x1="309.70" y1="479.14" x2="311.0" y2="479.14" stroke="#777" stroke-width="0.8"/>
<line x1="309.70" y1="475.86" x2="311.0" y2="475.86" stroke="#777" stroke-width="0.8"/>
<line x1="309.70" y1="472.59" x2="311.0" y2="472.59" stroke="#777" stroke-width="0.8"/>
<line x1="309.70" y1="469.31" x2="311.0" y2="469.31" stroke="#777" stroke-width="0.8"/>
<line x1="308.00" y1="466.03" x2="311.0" y2="466.03" stroke="#444" stroke-width="1"/>
<line x1="309.70" y1="462.76" x2="311.0" y2="462.76" stroke="#777" stroke-width="0.8"/>
<line x1="309.70" y1="459.48" x2="311.0" y2="459.48" stroke="#777" stroke-width="0.8"/>
<line x1="309.70" y1="456.20" x2="311.0" y2="456.20" stroke="#777" stroke-width="0.8"/>
<line x1="309.70" y1="452.93" x2="311.0" y2="452.93" stroke="#777" stroke-width="0.8"/>
<line x1="309.70" y1="449.65" x2="311.0" y2="449.65" stroke="#777" stroke-width="0.8"/>
<line x1="309.70" y1="446.37" x2="311.0" y2="446.37" stroke="#777" stroke-width="0.8"/>
<line x1="309.70" y1="443.10" x2="311.0" y2="443.10" stroke="#777" stroke-width="0.8"/>
<line x1="309.70" y1="439.82" x2="311.0" y2="439.82" stroke="#777" stroke-width="0.8"/>
<line x1="309.70" y1="436.54" x2="311.0" y2="436.54" stroke="#777" stroke-width="0.8"/>
<line x1="308.00" y1="433.27" x2="311.0" y2="433.27" stroke="#444" stroke-width="1"/>
<line x1="309.70" y1="429.99" x2="311.0" y2="429.99" stroke="#777" stroke-width="0.8"/>
<line x1="309.70" y1="426.71" x2="311.0" y2="426.71" stroke="#777" stroke-width="0.8"/>
<line x1="309.70" y1="423.44" x2="311.0" y2="423.44" stroke="#777" stroke-width="0.8"/>
<line x1="309.70" y1="420.16" x2="311.0" y2="420.16" stroke="#777" stroke-width="0.8"/>
<line x1="309.70" y1="416.88" x2="311.0" y2="416.88" stroke="#777" stroke-width="0.8"/>
<line x1="309.70" y1="413.61" x2="311.0" y2="413.61" stroke="#777" stroke-width="0.8"/>
<line x1="309.70" y1="410.33" x2="311.0" y2="410.33" stroke="#777" stroke-width="0.8"/>
<line x1="309.70" y1="407.05" x2="311.0" y2="407.05" stroke="#777" stroke-width="0.8"/>
<line x1="309.70" y1="403.78" x2="311.0" y2="403.78" stroke="#777" stroke-width="0.8"/>
<line x1="308.00" y1="400.50" x2="311.0" y2="400.50" stroke="#444" stroke-width="1"/>
<line x1="310.60" y1="498.8" x2="310.60" y2="500.8" stroke="#777" stroke-width="0.8"/>
<line x1="342.00" y1="498.8" x2="342.00" y2="500.8" stroke="#777" stroke-width="0.8"/>
<line x1="373.40" y1="498.8" x2="373.40" y2="500.8" stroke="#777" stroke-width="0.8"/>
<line x1="404.80" y1="498.8" x2="404.80" y2="500.8" stroke="#777" stroke-width="0.8"/>
<path d="M51.5,124.0 L51.6,116.4 L52.6,108.1 L53.6,97.8 L54.7,85.5 L55.5,75.0 L56.4,60.9 L57.2,49.6 L57.7,45.3 L59.0,38.4 L60.3,34.5 L61.2,36.0 L62.0,38.0 L63.0,40.5 L64.0,44.0 L65.0,47.9 L66.3,56.6 L67.6,65.2 L68.5,73.0 L70.1,83.4 L72.2,93.7 L74.6,100.0 L77.3,109.2 L80.0,115.4 L83.1,119.2 L86.9,121.5 L92.3,123.1 L95.4,124.0" fill="none" stroke="#222" stroke-width="1.2" stroke-dasharray="3.4,2.4"/>
<path d="M51.6,124.0 L51.6,119.5 L52.6,114.3 L54.2,108.1 L55.7,97.8 L57.2,85.5 L58.3,75.0 L59.4,64.4 L60.7,56.6 L61.6,50.5 L62.4,45.3 L63.0,41.0 L63.9,38.0 L64.5,40.0 L65.0,45.3 L66.7,47.5 L68.0,54.0 L69.3,60.9 L70.6,63.0 L71.5,65.2 L72.8,73.9 L74.3,83.4 L76.3,93.7 L77.7,97.7 L79.6,105.4 L81.2,112.3 L83.8,116.9 L87.7,120.0 L91.5,122.3 L95.4,123.7 L97.0,124.0" fill="none" stroke="#3a3a3a" stroke-width="1.1" stroke-linejoin="round"/>
<path d="M182.2,124.0 L182.3,116.4 L183.3,108.1 L184.3,97.8 L185.4,85.5 L186.2,75.0 L187.1,60.9 L187.9,49.6 L188.4,45.3 L189.7,38.4 L191.0,34.5 L191.9,36.0 L192.7,38.0 L193.7,40.5 L194.7,44.0 L195.7,47.9 L197.0,56.6 L198.3,65.2 L199.2,73.0 L200.8,83.4 L202.9,93.7 L205.3,100.0 L208.0,109.2 L210.7,115.4 L213.8,119.2 L217.6,121.5 L223.0,123.1 L226.1,124.0" fill="none" stroke="#222" stroke-width="1.2" stroke-dasharray="3.4,2.4"/>
<path d="M182.3,124.0 L182.3,119.5 L183.3,114.3 L184.9,108.1 L186.4,97.8 L187.9,85.5 L189.0,75.0 L190.1,64.4 L191.4,56.6 L192.3,50.5 L193.1,45.3 L193.7,41.0 L194.6,38.0 L195.2,40.0 L195.7,45.3 L197.4,47.5 L198.7,54.0 L200.0,60.9 L201.3,63.0 L202.2,65.2 L203.5,73.9 L205.0,83.4 L207.0,93.7 L208.4,97.7 L210.3,105.4 L211.9,112.3 L214.5,116.9 L218.4,120.0 L222.2,122.3 L226.1,123.7 L227.7,124.0" fill="none" stroke="#3a3a3a" stroke-width="1.1" stroke-linejoin="round"/>
<path d="M310.5,124.0 L310.9,116.3 L311.4,107.7 L312.3,104.0 L313.3,100.9 L314.3,88.4 L314.6,74.0 L315.4,64.8 L316.3,55.6 L317.2,46.4 L318.1,40.0 L319.5,34.4 L320.7,37.0 L321.8,40.0 L322.8,38.0 L323.7,37.2 L324.1,44.6 L325.0,51.0 L326.4,58.4 L327.3,66.7 L328.3,75.9 L330.6,83.6 L332.0,93.2 L334.9,100.9 L337.3,109.6 L340.7,116.3 L345.5,121.1 L350.3,123.0 L354.2,124.0" fill="none" stroke="#222" stroke-width="1.2" stroke-dasharray="3.4,2.4"/>
<path d="M327.2,124.0 L332.0,122.1 L336.8,120.2 L340.7,116.3 L343.6,112.5 L345.8,111.2 L346.5,109.6 L348.2,103.3 L350.5,95.4 L352.9,85.9 L355.3,74.8 L356.9,63.7 L359.2,55.8 L360.8,50.5 L361.6,51.5 L362.5,50.2 L364.0,55.8 L365.6,68.5 L367.2,74.8 L368.7,81.1 L370.3,90.6 L372.7,100.1 L375.9,109.6 L379.0,114.4 L383.8,119.9 L389.3,122.3 L394.0,124.0" fill="none" stroke="#3a3a3a" stroke-width="1.1" stroke-linejoin="round"/>
<path d="M51.4,289.0 L51.4,283.7 L52.0,278.0 L53.1,270.0 L54.3,258.5 L55.4,244.8 L56.3,231.4 L56.7,224.8 L57.5,214.9 L57.9,208.2 L58.8,203.3 L59.8,199.0 L60.8,195.8 L61.8,199.0 L63.0,205.0 L64.5,213.0 L65.8,222.0 L67.5,230.0 L69.5,237.0 L71.5,244.0 L73.5,252.0 L75.5,261.0 L77.5,268.0 L79.5,275.0 L81.5,280.5 L84.0,285.5 L87.0,289.0 L89.0,290.0" fill="none" stroke="#222" stroke-width="1.2" stroke-dasharray="3.4,2.4"/>
<path d="M51.4,290.0 L51.4,283.0 L52.6,279.0 L54.3,272.2 L55.2,265.0 L56.0,258.5 L56.6,251.0 L57.1,244.8 L57.8,237.0 L58.4,231.0 L58.8,223.1 L59.6,213.2 L60.4,206.6 L61.2,203.0 L62.1,201.6 L62.9,204.0 L63.7,206.6 L65.0,214.9 L66.4,224.0 L68.2,232.0 L70.3,238.5 L72.5,245.0 L74.4,253.0 L76.3,261.3 L78.5,268.0 L80.7,273.9 L83.8,281.4 L86.5,286.0 L89.4,289.5 L91.0,290.2" fill="none" stroke="#3a3a3a" stroke-width="1.1" stroke-linejoin="round"/>
<path d="M181.8,276.7 L183.4,277.7 L184.8,275.8 L186.3,271.9 L187.7,264.2 L189.6,254.6 L190.4,248.1 L191.2,240.6 L192.0,232.3 L193.3,223.2 L194.1,217.4 L196.6,215.8 L199.5,214.1 L200.5,219.0 L201.5,224.9 L203.6,232.3 L204.9,240.6 L205.6,244.0 L206.6,248.5 L208.4,254.6 L210.3,264.2 L212.7,272.9 L215.6,280.6 L218.5,285.4 L222.3,288.3 L225.0,290.0" fill="none" stroke="#222" stroke-width="1.2" stroke-dasharray="3.4,2.4"/>
<path d="M181.5,290.0 L181.5,281.5 L182.9,284.4 L184.3,282.5 L186.3,277.7 L188.2,271.9 L189.6,264.2 L191.1,254.6 L192.0,249.7 L193.3,242.3 L194.5,234.0 L195.7,225.7 L197.0,221.6 L198.0,219.0 L199.1,217.4 L200.0,219.0 L200.7,219.9 L202.8,219.5 L204.0,224.9 L205.7,231.5 L207.3,239.8 L207.9,245.0 L209.2,249.0 L210.3,254.6 L212.2,264.2 L214.6,272.9 L217.5,279.6 L220.4,284.4 L224.2,287.8 L228.1,290.0" fill="none" stroke="#3a3a3a" stroke-width="1.1" stroke-linejoin="round"/>
<path d="M310.3,265.0 L311.5,261.5 L313.2,255.8 L314.9,246.5 L315.1,238.9 L315.5,233.6 L316.4,225.6 L317.3,215.9 L318.6,208.8 L320.4,203.5 L321.7,200.0 L323.0,203.5 L323.5,211.5 L324.4,218.5 L325.2,225.6 L326.1,232.7 L327.0,238.9 L328.8,246.5 L331.1,255.8 L334.0,265.0 L336.8,271.9 L340.3,277.7 L344.9,282.3 L349.5,285.7 L354.1,287.5 L358.0,290.0" fill="none" stroke="#222" stroke-width="1.2" stroke-dasharray="3.4,2.4"/>
<path d="M310.3,256.0 L310.5,270.0 L311.5,280.6 L313.2,278.8 L314.9,273.1 L316.7,265.0 L317.8,255.8 L319.0,246.5 L319.5,239.7 L319.9,234.4 L320.8,229.1 L321.7,223.0 L322.6,214.1 L323.5,205.0 L324.8,198.6 L326.6,202.6 L327.9,209.7 L329.2,217.6 L330.5,225.6 L331.4,233.0 L332.2,240.0 L332.9,246.5 L335.1,254.6 L337.4,262.7 L339.1,267.9 L341.4,267.9 L343.2,271.9 L345.5,277.7 L348.4,281.1 L351.8,284.6 L356.4,286.9 L363.4,288.1 L368.0,290.0" fill="none" stroke="#3a3a3a" stroke-width="1.1" stroke-linejoin="round"/>
<path d="M51.4,391.0 L51.4,386.0 L52.0,380.8 L53.1,374.0 L54.8,362.5 L56.0,348.8 L56.7,335.4 L57.5,325.5 L58.4,314.7 L59.6,306.4 L61.7,299.8 L63.3,304.0 L64.2,310.6 L65.5,320.0 L67.0,330.0 L69.0,340.0 L71.5,352.0 L73.8,366.0 L76.5,374.0 L79.5,381.0 L82.0,386.0 L84.4,390.0 L86.5,393.0 L88.0,394.0" fill="none" stroke="#222" stroke-width="1.2" stroke-dasharray="3.4,2.4"/>
<path d="M51.5,394.0 L51.5,386.0 L52.6,382.0 L54.8,374.0 L55.8,368.0 L56.6,362.5 L57.2,355.0 L57.7,348.8 L58.3,341.0 L58.8,336.0 L59.6,325.5 L60.4,314.7 L61.3,309.7 L62.1,308.9 L63.3,313.0 L65.0,321.3 L66.6,328.8 L68.7,336.3 L71.0,347.0 L73.0,356.5 L75.0,366.0 L78.0,372.5 L81.0,378.5 L84.0,384.5 L86.5,389.0 L88.8,392.7 L90.5,394.0" fill="none" stroke="#3a3a3a" stroke-width="1.1" stroke-linejoin="round"/>
<path d="M181.6,381.7 L182.9,382.6 L184.3,380.7 L185.8,375.9 L187.2,367.2 L189.1,357.6 L190.2,353.0 L191.0,348.1 L191.6,340.7 L192.4,334.0 L193.3,328.2 L194.1,322.4 L195.7,320.8 L198.6,318.7 L200.3,324.9 L202.0,329.9 L203.2,334.9 L204.0,341.5 L205.3,346.0 L206.2,350.0 L207.2,354.0 L208.4,357.6 L210.3,367.2 L212.7,376.8 L215.6,383.6 L218.5,388.4 L221.3,391.3 L224.0,394.0" fill="none" stroke="#222" stroke-width="1.2" stroke-dasharray="3.4,2.4"/>
<path d="M181.6,394.0 L181.6,386.0 L182.4,384.5 L183.8,386.0 L185.8,381.7 L187.7,375.9 L189.6,367.2 L191.1,357.6 L191.6,354.7 L192.4,343.1 L193.3,334.9 L194.5,329.9 L195.7,327.4 L197.0,324.1 L198.6,318.7 L199.9,322.4 L201.5,326.6 L203.6,327.4 L204.4,333.2 L205.3,339.8 L206.5,345.6 L207.5,349.0 L208.2,351.4 L209.3,357.6 L211.7,365.3 L213.7,373.0 L216.1,379.7 L219.4,386.5 L223.3,390.3 L227.1,394.0" fill="none" stroke="#3a3a3a" stroke-width="1.1" stroke-linejoin="round"/>
<path d="M310.9,367.7 L312.0,365.4 L313.2,360.8 L314.9,351.5 L315.5,342.9 L316.1,335.8 L316.8,327.8 L317.7,319.9 L318.4,313.7 L319.5,310.1 L321.3,306.6 L322.6,303.5 L323.9,307.5 L324.4,315.5 L325.2,322.5 L326.1,331.4 L327.0,338.4 L327.9,343.7 L329.3,351.5 L331.6,360.8 L334.5,370.0 L338.0,376.9 L342.6,383.8 L347.2,388.4 L351.8,390.7 L356.0,394.0" fill="none" stroke="#222" stroke-width="1.2" stroke-dasharray="3.4,2.4"/>
<path d="M310.6,352.0 L310.7,370.0 L310.9,379.2 L312.0,381.5 L313.2,379.2 L314.9,372.3 L316.7,363.1 L318.4,351.5 L318.9,343.7 L319.5,336.7 L320.4,329.6 L321.3,322.5 L322.6,317.2 L323.5,311.9 L324.4,305.7 L325.7,310.1 L327.0,315.5 L328.3,322.5 L329.2,329.6 L330.1,336.7 L331.0,342.9 L332.8,351.5 L334.5,360.8 L336.8,364.2 L338.0,370.0 L340.3,373.4 L343.8,378.1 L347.2,382.7 L350.7,387.3 L355.3,390.7 L361.1,391.9 L368.0,394.0" fill="none" stroke="#3a3a3a" stroke-width="1.1" stroke-linejoin="round"/>
<path d="M51.4,497.0 L51.6,495.0 L52.2,486.5 L53.4,471.0 L54.3,462.0 L55.2,453.0 L56.2,444.0 L57.0,435.0 L57.6,430.0 L58.3,422.0 L58.7,417.7 L59.8,412.5 L61.0,407.5 L62.0,404.8 L63.0,406.5 L63.9,409.6 L64.8,415.0 L65.7,421.4 L66.4,427.3 L67.5,433.2 L69.0,441.0 L70.8,451.8 L72.5,460.0 L74.3,468.5 L76.2,475.0 L78.0,480.5 L80.0,486.0 L82.0,491.0 L84.5,495.5 L87.0,498.5" fill="none" stroke="#222" stroke-width="1.2" stroke-dasharray="3.4,2.4"/>
<path d="M51.5,498.5 L52.2,492.5 L53.0,487.0 L54.0,481.7 L55.0,474.0 L55.8,467.3 L56.8,458.0 L57.6,449.4 L58.8,441.0 L59.8,434.0 L60.6,428.0 L61.3,422.0 L62.4,416.2 L63.5,414.5 L64.6,414.0 L65.7,417.0 L66.8,422.0 L67.9,431.0 L68.4,435.0 L69.0,438.3 L70.5,444.0 L72.0,449.4 L73.8,457.0 L75.5,465.0 L77.3,472.5 L79.1,479.3 L81.5,484.0 L83.9,487.5 L86.8,492.5 L89.7,497.0 L91.0,498.5" fill="none" stroke="#3a3a3a" stroke-width="1.1" stroke-linejoin="round"/>
<path d="M184.8,486.3 L185.5,481.3 L187.1,473.0 L188.8,461.4 L190.5,448.1 L192.1,434.9 L193.8,426.6 L195.0,422.0 L196.3,420.0 L197.5,422.0 L198.8,424.9 L200.4,434.9 L202.9,443.2 L205.4,453.1 L207.9,466.4 L210.4,479.7 L212.9,492.9 L214.5,496.2 L218.0,498.0 L226.0,498.4" fill="none" stroke="#222" stroke-width="1.2" stroke-dasharray="3.4,2.4"/>
<path d="M214.6,496.9 L219.2,494.6 L223.8,493.1 L228.5,490.8 L232.3,486.9 L235.4,482.3 L237.7,479.2 L241.5,476.2 L243.8,473.8 L246.9,470.0 L250.0,466.2 L252.3,465.4 L253.1,459.2 L254.6,458.5 L257.7,456.5 L260.0,458.5 L262.3,457.7 L264.6,461.5 L267.7,466.2 L270.0,472.3 L273.1,477.7 L275.4,481.5 L276.9,486.9 L279.2,491.5 L281.5,493.8 L283.8,496.9 L285.4,498.5" fill="none" stroke="#3a3a3a" stroke-width="1.1" stroke-linejoin="round"/>
<path d="M311.0,462.0 L311.2,461.3 L311.9,454.0 L313.4,442.2 L314.6,431.9 L315.6,420.1 L317.1,409.8 L318.2,404.0 L319.3,401.0 L320.4,405.0 L321.5,409.8 L323.0,420.1 L324.5,430.4 L325.9,437.8 L327.4,448.1 L329.6,459.9 L331.5,470.0 L334.0,476.1 L335.3,480.8 L339.2,488.5 L343.0,494.2 L348.8,498.0" fill="none" stroke="#222" stroke-width="1.2" stroke-dasharray="3.4,2.4"/>
<path d="M321.8,498.5 L325.0,496.5 L329.5,495.2 L335.3,493.3 L340.1,490.4 L344.9,491.9 L348.8,489.4 L351.7,490.4 L356.5,488.5 L361.3,485.6 L366.1,480.8 L369.0,477.9 L372.8,476.9 L375.7,472.1 L379.5,469.2 L382.4,463.5 L385.3,457.3 L387.2,460.6 L390.7,457.3 L394.0,463.5 L396.8,468.3 L400.7,472.1 L404.5,476.9 L408.4,484.6 L411.3,491.3 L414.2,496.2 L417.0,498.5" fill="none" stroke="#3a3a3a" stroke-width="1.1" stroke-linejoin="round"/>
<text x="0" y="0" font-family='"Liberation Sans", sans-serif' font-size="24" font-weight="bold" stroke="#000" stroke-width="0.7" transform="translate(1.1,18.6) scale(1.04,1.06)">A</text>
<text x="0" y="0" font-family='"Liberation Sans", sans-serif' font-size="24" font-weight="bold" stroke="#000" stroke-width="1" transform="translate(2.3,189.2) scale(0.93,1.02)">B</text>
<text x="103.10" y="16" font-family='"Liberation Serif", serif' font-size="16.8" font-weight="bold" textLength="14.53" lengthAdjust="spacing">Id</text>
<text x="215.10" y="15.6" font-family='"Liberation Serif", serif' font-size="16.8" font-weight="bold" textLength="49.44" lengthAdjust="spacing">Id-GM</text>
<text x="331.90" y="15.8" font-family='"Liberation Serif", serif' font-size="16.8" font-weight="bold" textLength="76.02" lengthAdjust="spacing">Id-CTLA4</text>
<text x="86.70" y="181.4" font-family='"Liberation Serif", serif' font-size="16.8" font-weight="bold" textLength="38.68" lengthAdjust="spacing">CHO</text>
<text x="211.55" y="181.0" font-family='"Liberation Serif", serif' font-size="16.8" font-weight="bold" textLength="74.65" lengthAdjust="spacing">CHO/B7-1</text>
<text x="337.70" y="180.7" font-family='"Liberation Serif", serif' font-size="16.8" font-weight="bold" textLength="77.35" lengthAdjust="spacing">CHO/B7-2</text>
<text x="443.10" y="239.9" font-family='"Liberation Serif", serif' font-size="16.8" font-weight="bold" textLength="15.42" lengthAdjust="spacing">Id</text>
<text x="443.10" y="351.6" font-family='"Liberation Serif", serif' font-size="16.8" font-weight="bold" textLength="50.34" lengthAdjust="spacing">Id-GM</text>
<text x="443.90" y="452.7" font-family='"Liberation Serif", serif' font-size="16.8" font-weight="bold" textLength="75.57" lengthAdjust="spacing">Id-CTLA4</text>
<text x="166.45" y="539.7" font-family='"Liberation Serif", serif' font-size="17.2" font-weight="bold" textLength="155.27" lengthAdjust="spacing">Fluorescence intensity</text>
<text transform="translate(13.2,120.6) rotate(-90)" font-family='"Liberation Serif", serif' font-size="16.9" font-weight="bold" stroke="#111" stroke-width="0.25" textLength="88.2" lengthAdjust="spacing">Cell number</text>
<text transform="translate(13.4,395.4) rotate(-90)" font-family='"Liberation Serif", serif' font-size="16.9" font-weight="bold" stroke="#111" stroke-width="0.25" textLength="87.6" lengthAdjust="spacing">Cell number</text>
<text x="164.0" y="41.0" font-family='"Liberation Sans", sans-serif' font-size="16" font-weight="bold" text-anchor="end" stroke="#111" stroke-width="0.5">i</text>
<text x="296.8" y="40.9" font-family='"Liberation Sans", sans-serif' font-size="16" font-weight="bold" text-anchor="end" stroke="#111" stroke-width="0.5">ii</text>
<text x="430.6" y="40.9" font-family='"Liberation Sans", sans-serif' font-size="16" font-weight="bold" text-anchor="end" stroke="#111" stroke-width="0.5">iii</text>
<text x="161.5" y="206.4" font-family='"Liberation Sans", sans-serif' font-size="16" font-weight="bold" text-anchor="end" stroke="#111" stroke-width="0.5">i</text>
<text x="296.0" y="206.4" font-family='"Liberation Sans", sans-serif' font-size="16" font-weight="bold" text-anchor="end" stroke="#111" stroke-width="0.5">ii</text>
<text x="430.8" y="206.4" font-family='"Liberation Sans", sans-serif' font-size="16" font-weight="bold" text-anchor="end" stroke="#111" stroke-width="0.5">iii</text>
<text x="170.79999999999998" y="311.90000000000003" font-family='"Liberation Sans", sans-serif' font-size="16" font-weight="bold" text-anchor="end" stroke="#111" stroke-width="0.5">iv</text>
<text x="297.5" y="311.90000000000003" font-family='"Liberation Sans", sans-serif' font-size="16" font-weight="bold" text-anchor="end" stroke="#111" stroke-width="0.5">v</text>
<text x="431.8" y="311.90000000000003" font-family='"Liberation Sans", sans-serif' font-size="16" font-weight="bold" text-anchor="end" stroke="#111" stroke-width="0.5">vi</text>
<text x="171.79999999999998" y="416.1" font-family='"Liberation Sans", sans-serif' font-size="16" font-weight="bold" text-anchor="end" stroke="#111" stroke-width="0.5">vii</text>
<text x="300.20000000000005" y="415.8" font-family='"Liberation Sans", sans-serif' font-size="16" font-weight="bold" text-anchor="end" stroke="#111" stroke-width="0.5">viii</text>
<text x="429.85" y="416.1" font-family='"Liberation Sans", sans-serif' font-size="16" font-weight="bold" text-anchor="end" stroke="#111" stroke-width="0.5">ix</text>
<text x="39.5" y="30.75" font-family='"Liberation Serif", serif' font-size="8" font-weight="normal" text-anchor="middle" letter-spacing="0.4" fill="#1a1a1a" stroke="#1a1a1a" stroke-width="0.12">300</text>
<text x="39.5" y="63.05" font-family='"Liberation Serif", serif' font-size="8" font-weight="normal" text-anchor="middle" letter-spacing="0.4" fill="#1a1a1a" stroke="#1a1a1a" stroke-width="0.12">200</text>
<text x="39.5" y="95.25" font-family='"Liberation Serif", serif' font-size="8" font-weight="normal" text-anchor="middle" letter-spacing="0.4" fill="#1a1a1a" stroke="#1a1a1a" stroke-width="0.12">100</text>
<text x="39.5" y="127.45" font-family='"Liberation Serif", serif' font-size="8" font-weight="normal" text-anchor="middle" letter-spacing="0.4" fill="#1a1a1a" stroke="#1a1a1a" stroke-width="0.12">0</text>
<text x="37.900000000000006" y="199.45" font-family='"Liberation Serif", serif' font-size="8" font-weight="normal" text-anchor="middle" letter-spacing="0.4" fill="#1a1a1a" stroke="#1a1a1a" stroke-width="0.12">300</text>
<text x="37.900000000000006" y="232.25" font-family='"Liberation Serif", serif' font-size="8" font-weight="normal" text-anchor="middle" letter-spacing="0.4" fill="#1a1a1a" stroke="#1a1a1a" stroke-width="0.12">200</text>
<text x="37.900000000000006" y="264.05" font-family='"Liberation Serif", serif' font-size="8" font-weight="normal" text-anchor="middle" letter-spacing="0.4" fill="#1a1a1a" stroke="#1a1a1a" stroke-width="0.12">100</text>
<text x="37.900000000000006" y="296.85" font-family='"Liberation Serif", serif' font-size="8" font-weight="normal" text-anchor="middle" letter-spacing="0.4" fill="#1a1a1a" stroke="#1a1a1a" stroke-width="0.12">0</text>
<text x="38.1" y="305.85" font-family='"Liberation Serif", serif' font-size="8" font-weight="normal" text-anchor="middle" letter-spacing="0.4" fill="#1a1a1a" stroke="#1a1a1a" stroke-width="0.12">300</text>
<text x="38.1" y="338.35" font-family='"Liberation Serif", serif' font-size="8" font-weight="normal" text-anchor="middle" letter-spacing="0.4" fill="#1a1a1a" stroke="#1a1a1a" stroke-width="0.12">200</text>
<text x="38.1" y="370.15" font-family='"Liberation Serif", serif' font-size="8" font-weight="normal" text-anchor="middle" letter-spacing="0.4" fill="#1a1a1a" stroke="#1a1a1a" stroke-width="0.12">100</text>
<text x="38.1" y="401.85" font-family='"Liberation Serif", serif' font-size="8" font-weight="normal" text-anchor="middle" letter-spacing="0.4" fill="#1a1a1a" stroke="#1a1a1a" stroke-width="0.12">0</text>
<text x="38.2" y="412.15" font-family='"Liberation Serif", serif' font-size="8" font-weight="normal" text-anchor="middle" letter-spacing="0.4" fill="#1a1a1a" stroke="#1a1a1a" stroke-width="0.12">300</text>
<text x="38.2" y="443.95" font-family='"Liberation Serif", serif' font-size="8" font-weight="normal" text-anchor="middle" letter-spacing="0.4" fill="#1a1a1a" stroke="#1a1a1a" stroke-width="0.12">200</text>
<text x="38.2" y="475.75" font-family='"Liberation Serif", serif' font-size="8" font-weight="normal" text-anchor="middle" letter-spacing="0.4" fill="#1a1a1a" stroke="#1a1a1a" stroke-width="0.12">100</text>
<text x="38.2" y="507.95" font-family='"Liberation Serif", serif' font-size="8" font-weight="normal" text-anchor="middle" letter-spacing="0.4" fill="#1a1a1a" stroke="#1a1a1a" stroke-width="0.12">0</text>
<text x="48.300000000000004" y="138" font-family='"Liberation Serif", serif' font-size="7.6" letter-spacing="0.55" fill="#1a1a1a" stroke="#1a1a1a" stroke-width="0.12">10<tspan dy="-3.0" font-size="7.4">0</tspan></text>
<text x="80.2" y="138" font-family='"Liberation Serif", serif' font-size="7.6" letter-spacing="0.55" fill="#1a1a1a" stroke="#1a1a1a" stroke-width="0.12">10<tspan dy="-3.0" font-size="7.4">1</tspan></text>
<text x="111.3" y="138" font-family='"Liberation Serif", serif' font-size="7.6" letter-spacing="0.55" fill="#1a1a1a" stroke="#1a1a1a" stroke-width="0.12">10<tspan dy="-3.0" font-size="7.4">2</tspan></text>
<text x="142.29999999999998" y="138" font-family='"Liberation Serif", serif' font-size="7.6" letter-spacing="0.55" fill="#1a1a1a" stroke="#1a1a1a" stroke-width="0.12">10<tspan dy="-3.0" font-size="7.4">3</tspan></text>
<text x="178.29999999999998" y="138" font-family='"Liberation Serif", serif' font-size="7.6" letter-spacing="0.55" fill="#1a1a1a" stroke="#1a1a1a" stroke-width="0.12">10<tspan dy="-3.0" font-size="7.4">0</tspan></text>
<text x="208.7" y="138" font-family='"Liberation Serif", serif' font-size="7.6" letter-spacing="0.55" fill="#1a1a1a" stroke="#1a1a1a" stroke-width="0.12">10<tspan dy="-3.0" font-size="7.4">1</tspan></text>
<text x="238.89999999999998" y="138" font-family='"Liberation Serif", serif' font-size="7.6" letter-spacing="0.55" fill="#1a1a1a" stroke="#1a1a1a" stroke-width="0.12">10<tspan dy="-3.0" font-size="7.4">2</tspan></text>
<text x="269.2" y="138" font-family='"Liberation Serif", serif' font-size="7.6" letter-spacing="0.55" fill="#1a1a1a" stroke="#1a1a1a" stroke-width="0.12">10<tspan dy="-3.0" font-size="7.4">3</tspan></text>
<text x="308.2" y="138" font-family='"Liberation Serif", serif' font-size="7.6" letter-spacing="0.55" fill="#1a1a1a" stroke="#1a1a1a" stroke-width="0.12">10<tspan dy="-3.0" font-size="7.4">0</tspan></text>
<text x="339.2" y="138" font-family='"Liberation Serif", serif' font-size="7.6" letter-spacing="0.55" fill="#1a1a1a" stroke="#1a1a1a" stroke-width="0.12">10<tspan dy="-3.0" font-size="7.4">1</tspan></text>
<text x="370.2" y="138" font-family='"Liberation Serif", serif' font-size="7.6" letter-spacing="0.55" fill="#1a1a1a" stroke="#1a1a1a" stroke-width="0.12">10<tspan dy="-3.0" font-size="7.4">2</tspan></text>
<text x="401.2" y="138" font-family='"Liberation Serif", serif' font-size="7.6" letter-spacing="0.55" fill="#1a1a1a" stroke="#1a1a1a" stroke-width="0.12">10<tspan dy="-3.0" font-size="7.4">3</tspan></text>
<text x="50.5" y="512.3" font-family='"Liberation Serif", serif' font-size="7.6" letter-spacing="0.55" fill="#1a1a1a" stroke="#1a1a1a" stroke-width="0.12">10<tspan dy="-3.9" font-size="7.4">0</tspan></text>
<text x="81.4" y="512.3" font-family='"Liberation Serif", serif' font-size="7.6" letter-spacing="0.55" fill="#1a1a1a" stroke="#1a1a1a" stroke-width="0.12">10<tspan dy="-3.9" font-size="7.4">1</tspan></text>
<text x="113.2" y="512.3" font-family='"Liberation Serif", serif' font-size="7.6" letter-spacing="0.55" fill="#1a1a1a" stroke="#1a1a1a" stroke-width="0.12">10<tspan dy="-3.9" font-size="7.4">2</tspan></text>
<text x="144.29999999999998" y="512.3" font-family='"Liberation Serif", serif' font-size="7.6" letter-spacing="0.55" fill="#1a1a1a" stroke="#1a1a1a" stroke-width="0.12">10<tspan dy="-3.9" font-size="7.4">3</tspan></text>
<text x="185.1" y="512.3" font-family='"Liberation Serif", serif' font-size="7.6" letter-spacing="0.55" fill="#1a1a1a" stroke="#1a1a1a" stroke-width="0.12">10<tspan dy="-3.9" font-size="7.4">0</tspan></text>
<text x="215.7" y="512.3" font-family='"Liberation Serif", serif' font-size="7.6" letter-spacing="0.55" fill="#1a1a1a" stroke="#1a1a1a" stroke-width="0.12">10<tspan dy="-3.9" font-size="7.4">1</tspan></text>
<text x="246.0" y="512.3" font-family='"Liberation Serif", serif' font-size="7.6" letter-spacing="0.55" fill="#1a1a1a" stroke="#1a1a1a" stroke-width="0.12">10<tspan dy="-3.9" font-size="7.4">2</tspan></text>
<text x="276.2" y="512.3" font-family='"Liberation Serif", serif' font-size="7.6" letter-spacing="0.55" fill="#1a1a1a" stroke="#1a1a1a" stroke-width="0.12">10<tspan dy="-3.9" font-size="7.4">3</tspan></text>
<text x="312.3" y="512.3" font-family='"Liberation Serif", serif' font-size="7.6" letter-spacing="0.55" fill="#1a1a1a" stroke="#1a1a1a" stroke-width="0.12">10<tspan dy="-3.9" font-size="7.4">0</tspan></text>
<text x="343.3" y="512.3" font-family='"Liberation Serif", serif' font-size="7.6" letter-spacing="0.55" fill="#1a1a1a" stroke="#1a1a1a" stroke-width="0.12">10<tspan dy="-3.9" font-size="7.4">1</tspan></text>
<text x="374.3" y="512.3" font-family='"Liberation Serif", serif' font-size="7.6" letter-spacing="0.55" fill="#1a1a1a" stroke="#1a1a1a" stroke-width="0.12">10<tspan dy="-3.9" font-size="7.4">2</tspan></text>
<text x="405.3" y="512.3" font-family='"Liberation Serif", serif' font-size="7.6" letter-spacing="0.55" fill="#1a1a1a" stroke="#1a1a1a" stroke-width="0.12">10<tspan dy="-3.9" font-size="7.4">3</tspan></text>
</svg>
</body></html>
